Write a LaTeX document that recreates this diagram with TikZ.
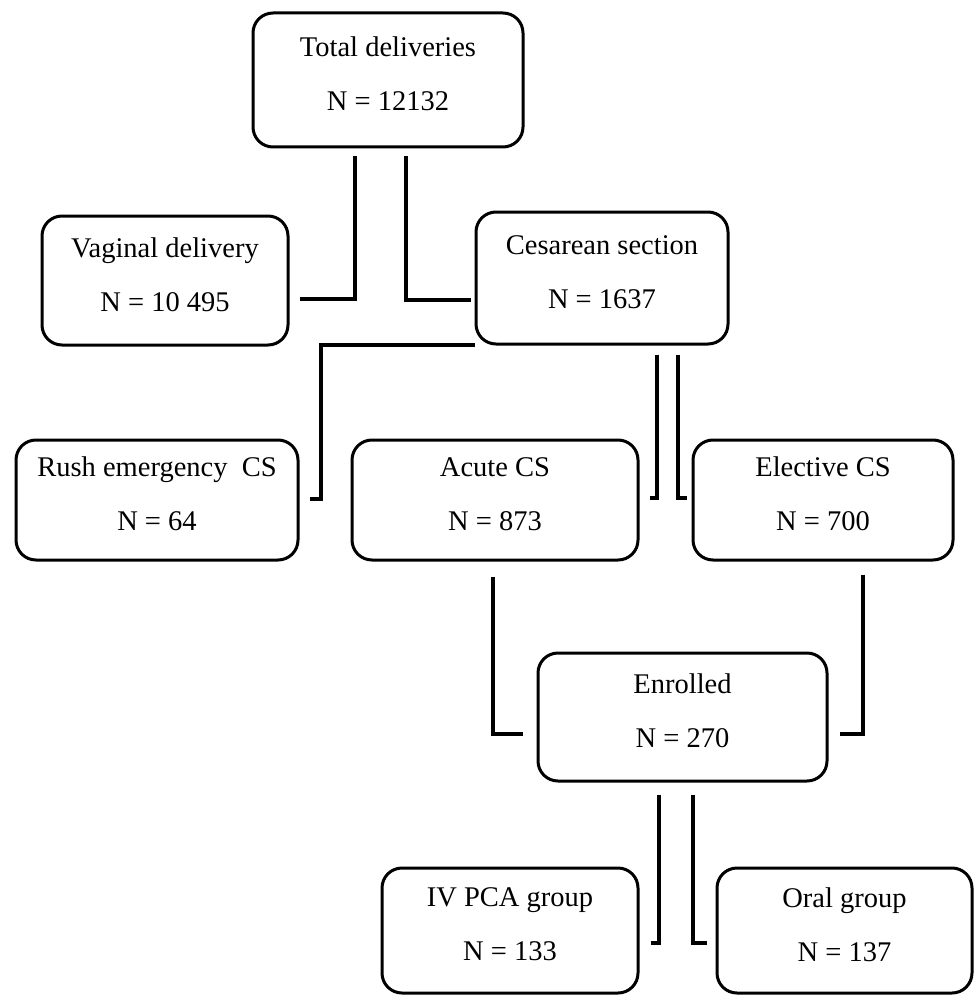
\documentclass[tikz,border=0pt]{standalone}
\usepackage{fontspec}
\setmainfont{Liberation Serif}
\usepackage{tikz}
\usetikzlibrary{shapes,arrows,shadows}

\begin{document}
\begin{tikzpicture}[x=1pt,y=-1pt,semithick]
\tikzstyle{every node}=[font=\fontsize{28.5}{54}\selectfont]
\tikzstyle{box}=[draw=black,rectangle,rounded corners=20pt,line width=3pt,fill=white,inner sep=0pt,align=center,text depth=12pt]
\tikzstyle{elbow}=[line width=4pt,to path={|- (\tikztotarget)}]
\useasboundingbox (0,0) rectangle (974,995);
\node[box,minimum width=270pt,minimum height=134pt] (total) at (388,80) {Total deliveries\\N = 12132};
\node[box,minimum width=246pt,minimum height=129pt] (vag) at (165,280.5) {Vaginal delivery\\N = 10 495};
\node[box,minimum width=252pt,minimum height=132pt] (ces) at (602,278) {Cesarean section\\N = 1637};
\node[box,minimum width=282pt,minimum height=120pt] (rush) at (157,500) {Rush emergency\ \ CS\\N = 64};
\node[box,minimum width=286pt,minimum height=120pt] (acute) at (495,500) {Acute CS\\N = 873};
\node[box,minimum width=260pt,minimum height=120pt] (elect) at (823,500) {Elective CS\\N = 700};
\node[box,minimum width=289pt,minimum height=128pt] (enrol) at (682.5,717) {Enrolled\\N = 270};
\node[box,minimum width=256pt,minimum height=125pt] (ivpca) at (510,930.5) {IV PCA group\\N = 133};
\node[box,minimum width=255pt,minimum height=125pt] (oral) at (844.5,930.5) {Oral group\\N = 137};
\path ([xshift=-33pt,yshift=-8pt]total.south) edge[elbow] ([xshift=10pt,yshift=-18.5pt]vag.east)
      ([xshift=18pt,yshift=-8pt]total.south) edge[elbow] ([xshift=-4pt,yshift=-22pt]ces.west)
      ([yshift=1pt]ces.south west) edge[line width=4pt,to path={-- ++(-154,0) |- (\tikztotarget)}] ([xshift=10pt,yshift=1pt]rush.east)
      ([xshift=55pt,yshift=-9pt]ces.south) edge[elbow] ([xshift=10pt,yshift=2pt]acute.east)
      ([xshift=76pt,yshift=-9pt]ces.south) edge[elbow] ([xshift=-5pt,yshift=2pt]elect.west)
      ([xshift=-2pt,yshift=-15pt]acute.south) edge[elbow] ([xshift=-14pt,yshift=-17pt]enrol.west)
      ([xshift=40pt,yshift=-13pt]elect.south) edge[elbow] ([xshift=11pt,yshift=-17pt]enrol.east)
      ([xshift=-23.5pt,yshift=-12pt]enrol.south) edge[elbow] ([xshift=11pt,yshift=-12.5pt]ivpca.east)
      ([xshift=10.5pt,yshift=-12pt]enrol.south) edge[elbow] ([xshift=-9pt,yshift=-12.5pt]oral.west);
\end{tikzpicture}
\end{document}
